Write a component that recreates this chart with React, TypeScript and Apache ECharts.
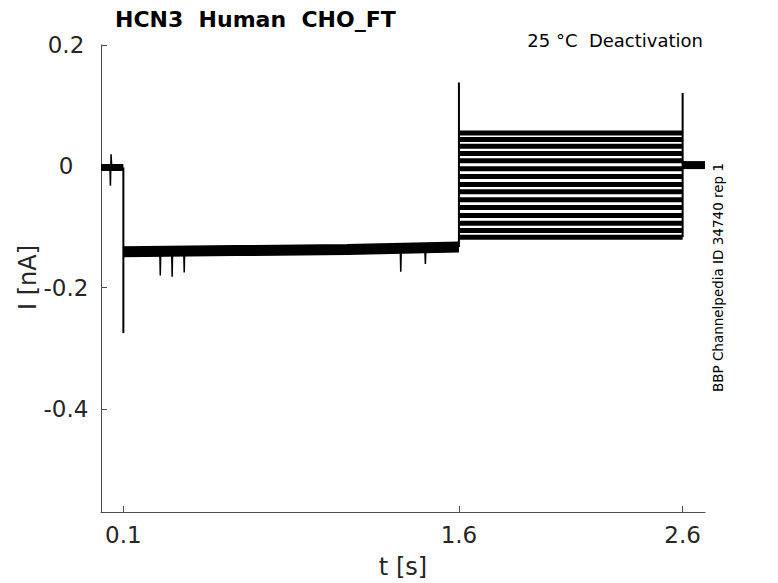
import React, { useEffect, useRef } from "react";
import * as echarts from "echarts";

// ---- data ----
const xTickValues = [0.1, 1.6, 2.6];
const xTickLabels = ["0.1", "1.6", "2.6"];
const yTickValues = [0.2, 0, -0.2, -0.4];
const yTickLabels = ["0.2", "0", "-0.2", "-0.4"];

// holding segment before the step (t [s], I [nA])
const preTrace: [number, number][] = [[0.0, -0.002], [0.1, -0.002]];
const preBlip: [number, number][] = [[0.040, -0.002], [0.042, -0.032], [0.045, 0.02], [0.048, -0.002]];
// hyperpolarising step
const stepTrace: [number, number][] = [[0.1, -0.141], [0.6, -0.139], [1.1, -0.137], [1.6, -0.133]];
const stepSpikes: [number, number][] = [[0.265, -0.18], [0.318, -0.182], [0.372, -0.175], [1.34, -0.174], [1.45, -0.161]];
// capacitive transients
const onsetTransient: [number, number][] = [[0.1, -0.002], [0.1, -0.275], [0.1, -0.141]];
const testTransient: [number, number][] = [[1.6, -0.133], [1.6, 0.138], [1.6, -0.117]];
const offTransient: [number, number][] = [[2.6, -0.117], [2.6, 0.121], [2.6, 0.002]];
// test pulse levels, one per sweep
const testLevels = [0.055, 0.044, 0.033, 0.021, 0.009, -0.004, -0.017, -0.03, -0.042, -0.055, -0.068, -0.081, -0.094, -0.106, -0.117];
const testStart = 1.6;
const testEnd = 2.6;
// tail back at holding
const tailTrace: [number, number][] = [[2.6, 0.002], [2.7, 0.002]];

const FONT = "DejaVu Sans";
const AXIS_COLOR = "#4d4d4d";
const TEXT_COLOR = "#262626";

function line(data: [number, number][], width: number) {
  return {
    type: "line",
    data,
    symbol: "none",
    silent: true,
    lineStyle: { color: "#000", width },
  };
}

export default function App() {
  const ref = useRef<HTMLDivElement>(null);
  useEffect(() => {
    if (!ref.current) return;
    const chart = echarts.init(ref.current, undefined, { renderer: "svg" });
    const series: any[] = [];
    series.push(line(preTrace, 7));
    series.push(line(preBlip, 1.5));
    series.push(line(stepTrace, 11));
    stepSpikes.forEach(([t, v]) => {
      series.push(line([[t - 0.002, -0.14], [t, v], [t + 0.002, -0.14]], 1.5));
    });
    testLevels.forEach((lv) => {
      series.push(line([[testStart, lv], [testEnd, lv]], 5));
    });
    series.push(line(tailTrace, 8));
    series.push(line(onsetTransient, 2));
    series.push(line(testTransient, 2));
    series.push(line(offTransient, 2));

    const fmt = (vals: number[], labs: string[]) => (v: number) => {
      const i = vals.findIndex((x) => Math.abs(x - v) < 1e-9);
      return i >= 0 ? labs[i] : "";
    };

    chart.setOption({
      animation: false,
      grid: { left: 101, top: 45, right: 73, bottom: 71, containLabel: false },
      xAxis: {
        type: "value",
        min: 0,
        max: 2.7,
        splitLine: { show: false },
        axisLine: { show: true, onZero: false, lineStyle: { color: AXIS_COLOR, width: 1 } },
        axisTick: { show: true, inside: true, length: 6, customValues: xTickValues, lineStyle: { color: AXIS_COLOR } },
        axisLabel: {
          customValues: xTickValues,
          formatter: fmt(xTickValues, xTickLabels),
          fontFamily: FONT,
          fontSize: 23,
          color: TEXT_COLOR,
          margin: 11,
        },
      },
      yAxis: {
        type: "value",
        min: -0.57,
        max: 0.2,
        splitLine: { show: false },
        axisLine: { show: true, onZero: false, lineStyle: { color: AXIS_COLOR, width: 1 } },
        axisTick: { show: true, inside: true, length: 6, customValues: yTickValues, lineStyle: { color: AXIS_COLOR } },
        axisLabel: {
          customValues: yTickValues,
          formatter: fmt(yTickValues, yTickLabels),
          fontFamily: FONT,
          fontSize: 23,
          color: TEXT_COLOR,
          align: "center",
          margin: 35,
        },
      },
      graphic: [
        {
          type: "text",
          left: 115,
          top: 8,
          style: { text: "HCN3  Human  CHO_FT", fontFamily: FONT, fontSize: 22, fontWeight: "bold", fill: "#000" },
        },
        {
          type: "text",
          x: 703,
          y: 40.5,
          style: { text: "25 °C  Deactivation", fontFamily: FONT, fontSize: 18, fill: "#000", align: "right", verticalAlign: "middle" },
        },
        {
          type: "text",
          x: 403,
          y: 567,
          style: { text: "t [s]", fontFamily: FONT, fontSize: 24, fill: TEXT_COLOR, align: "center", verticalAlign: "middle" },
        },
        {
          type: "text",
          x: 27.5,
          y: 277.5,
          rotation: Math.PI / 2,
          style: { text: "I [nA]", fontFamily: FONT, fontSize: 24, fill: TEXT_COLOR, align: "center", verticalAlign: "middle" },
        },
        {
          type: "text",
          x: 718,
          y: 277.5,
          rotation: Math.PI / 2,
          style: { text: "BBP Channelpedia ID 34740 rep 1", fontFamily: FONT, fontSize: 13.5, fill: "#000", align: "center", verticalAlign: "middle" },
        },
      ],
      series,
    });
    return () => chart.dispose();
  }, []);
  return (
    <div
      ref={ref}
      style={{ position: "fixed", left: 0, top: 0, width: 778, height: 583, background: "#fff" }}
    />
  );
}
